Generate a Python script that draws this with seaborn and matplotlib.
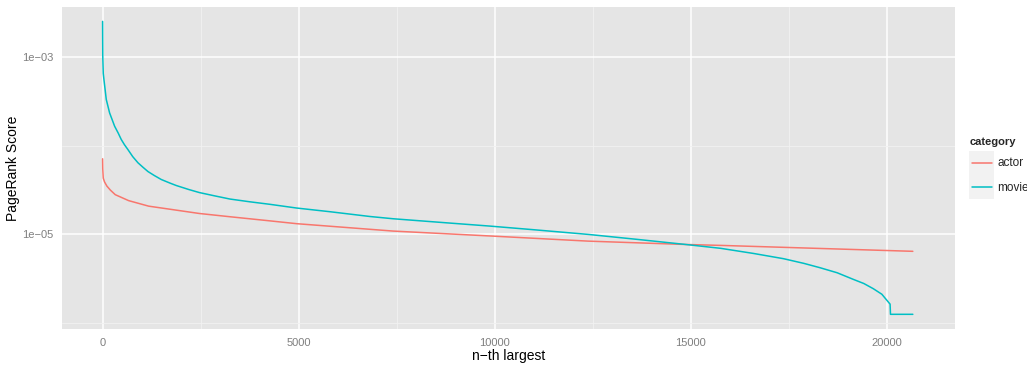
import matplotlib
matplotlib.use("Agg")
import matplotlib.pyplot as plt
import seaborn as sns
import pandas as pd
from matplotlib.lines import Line2D
from matplotlib.patches import Rectangle
from matplotlib.legend_handler import HandlerBase
from matplotlib.ticker import FixedLocator, FixedFormatter

# values (rank, PageRank score)
actor_rank = [1, 5, 18, 50, 110, 200, 324, 665, 1175, 1720, 2466, 3250, 4270,
              4950, 7410, 9880, 12380, 14870, 15760, 20660]
actor_score = [7.1e-05, 5.5e-05, 4.3e-05, 3.9e-05, 3.5e-05, 3.15e-05, 2.8e-05,
               2.4e-05, 2.08e-05, 1.92e-05, 1.72e-05, 1.58e-05, 1.42e-05,
               1.32e-05, 1.09e-05, 9.6e-06, 8.4e-06, 7.7e-06, 7.52e-06, 6.45e-06]

movie_rank = [1, 3, 6, 18, 36, 95, 180, 308, 400, 477, 560, 648, 770, 903,
              1030, 1158, 1320, 1497, 1720, 1880, 2200, 2466, 2850, 3250, 3750,
              4270, 4950, 5800, 6820, 7410, 8770, 9880, 10980, 12380, 13620,
              14870, 15760, 16600, 17360, 17880, 18290, 18730, 19140, 19410,
              19650, 19870, 19990, 20060, 20080, 20090, 20660]
movie_score = [2.5e-03, 1.6e-03, 1.0e-03, 6.5e-04, 5.5e-04, 3.3e-04, 2.33e-04,
               1.65e-04, 1.38e-04, 1.17e-04, 1.02e-04, 9.0e-05, 7.5e-05,
               6.4e-05, 5.7e-05, 5.1e-05, 4.6e-05, 4.15e-05, 3.78e-05,
               3.55e-05, 3.2e-05, 2.96e-05, 2.72e-05, 2.5e-05, 2.33e-05,
               2.18e-05, 1.98e-05, 1.8e-05, 1.59e-05, 1.5e-05, 1.35e-05,
               1.24e-05, 1.13e-05, 1.0e-05, 8.8e-06, 7.7e-06, 6.97e-06, 6.1e-06,
               5.33e-06, 4.72e-06, 4.22e-06, 3.7e-06, 3.12e-06, 2.8e-06,
               2.45e-06, 2.12e-06, 1.83e-06, 1.68e-06, 1.64e-06, 1.26e-06,
               1.26e-06]

categories = ["actor", "movie"]
colors = ["#F8766D", "#00BFC4"]

df = pd.concat([
    pd.DataFrame({"rank": actor_rank, "score": actor_score, "category": "actor"}),
    pd.DataFrame({"rank": movie_rank, "score": movie_score, "category": "movie"}),
])

sns.set_style("darkgrid", {"axes.facecolor": "#E5E5E5", "grid.color": "white"})
plt.rcParams["font.family"] = ["Liberation Sans", "DejaVu Sans"]

fig = plt.figure(figsize=(10.27, 3.65), dpi=100)
ax = fig.add_axes([62 / 1027, 1 - 329 / 365, 893 / 1027, 322 / 365])

sns.lineplot(data=df, x="rank", y="score", hue="category", hue_order=categories,
             palette=colors, linewidth=1.1, legend=False, ax=ax, sort=False)

ax.set_yscale("log")
ax.set_xlim(-1034, 21735)
ax.set_ylim(10 ** -6.065, 10 ** -2.44)

ax.xaxis.set_major_locator(FixedLocator([0, 5000, 10000, 15000, 20000]))
ax.xaxis.set_major_formatter(FixedFormatter(["0", "5000", "10000", "15000", "20000"]))
ax.xaxis.set_minor_locator(FixedLocator([2500, 7500, 12500, 17500]))
ax.yaxis.set_major_locator(FixedLocator([1e-03, 1e-05]))
ax.yaxis.set_major_formatter(FixedFormatter(["1e\u221203", "1e\u221205"]))
ax.yaxis.set_minor_locator(FixedLocator([1e-04, 1e-06]))
ax.yaxis.set_minor_formatter(FixedFormatter(["", ""]))

ax.grid(which="major", color="white", linewidth=1.1)
ax.grid(which="minor", color="#F2F2F2", linewidth=0.6)
for s in ax.spines.values():
    s.set_visible(False)

ax.tick_params(which="major", length=3.5, width=0.8, color="#7F7F7F",
               labelcolor="#7F7F7F", labelsize=8, pad=3)
ax.tick_params(which="minor", length=0)

ax.set_xlabel("n\u2212th largest", fontsize=10, color="black", labelpad=1)
ax.set_ylabel("PageRank Score", fontsize=10, color="black", labelpad=1)


class KeyHandler(HandlerBase):
    # grey key box with a coloured line across it, like ggplot
    def create_artists(self, legend, orig_handle, xdescent, ydescent,
                       width, height, fontsize, trans):
        box = Rectangle((-xdescent, -ydescent), width, height,
                        facecolor="#F2F2F2", edgecolor="none", transform=trans)
        y = -ydescent + height / 2
        line = Line2D([-xdescent + width * 0.1, -xdescent + width * 0.9], [y, y],
                      color=orig_handle.get_color(), linewidth=1.1, transform=trans)
        return [box, line]


handles = [Line2D([], [], color=c) for c in colors]
leg = fig.legend(handles, categories, loc="upper left",
                 bbox_to_anchor=(968 / 1027, 1 - 136 / 365),
                 handler_map={Line2D: KeyHandler()},
                 frameon=False, fontsize=8.5, title="category",
                 title_fontproperties={"weight": "bold", "size": 8},
                 handlelength=2.12, handleheight=2.75, handletextpad=0.25,
                 labelspacing=0.05, borderaxespad=0, borderpad=0.1)
leg._legend_box.align = "left"
leg._legend_box.sep = 2.6  # a little room between title and keys

fig.savefig("out.png", dpi=100)
